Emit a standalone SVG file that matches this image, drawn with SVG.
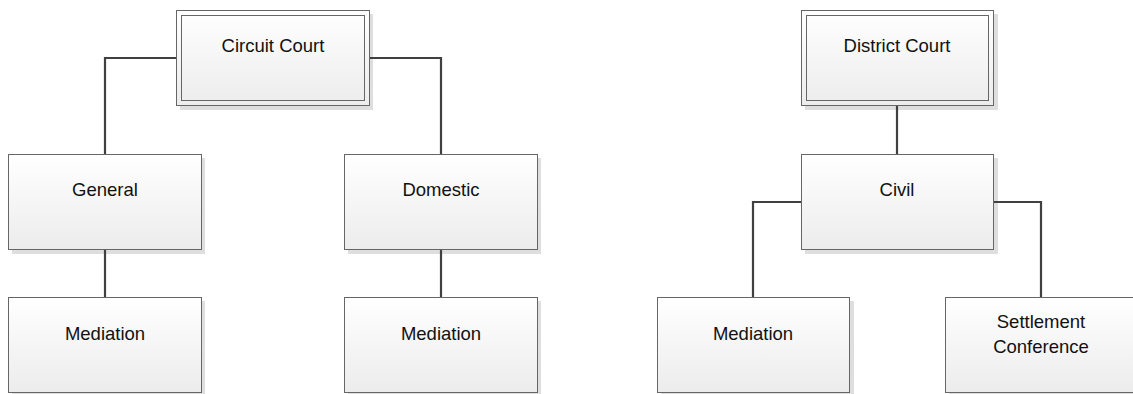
<svg xmlns="http://www.w3.org/2000/svg" width="1133" height="394" viewBox="0 0 1133 394">
<defs>
<linearGradient id="g" x1="0" y1="0" x2="0" y2="1">
<stop offset="0" stop-color="#ffffff"/>
<stop offset="1" stop-color="#ececec"/>
</linearGradient>
<style>
.sh{fill:#dedede;}
.box{fill:url(#g);stroke:#666666;stroke-width:1;}
.inner{fill:none;stroke:#666666;stroke-width:1;}
.t{font-family:"Liberation Sans",Arial,sans-serif;font-size:18.5px;fill:#111111;text-anchor:middle;}
.c{fill:none;stroke:#404040;stroke-width:2.2;}
</style>
</defs>
<rect width="1133" height="394" fill="#ffffff"/>
<g id="circuit-court">
<rect class="sh" x="180" y="14" width="193" height="96"/>
<rect class="box" x="176.5" y="10.5" width="193" height="95"/>
<rect class="inner" x="181.5" y="15.5" width="183" height="85"/>
<text class="t" x="273" y="52">Circuit Court</text>
</g>
<g id="general">
<rect class="sh" x="12" y="158" width="193" height="96"/>
<rect class="box" x="8.5" y="154.5" width="193" height="95"/>
<text class="t" x="105" y="196">General</text>
</g>
<g id="domestic">
<rect class="sh" x="348" y="158" width="193" height="96"/>
<rect class="box" x="344.5" y="154.5" width="193" height="95"/>
<text class="t" x="441" y="196">Domestic</text>
</g>
<g id="mediation-1">
<rect class="sh" x="12" y="301" width="193" height="96"/>
<rect class="box" x="8.5" y="297.5" width="193" height="95"/>
<text class="t" x="105" y="340">Mediation</text>
</g>
<g id="mediation-2">
<rect class="sh" x="348" y="301" width="193" height="96"/>
<rect class="box" x="344.5" y="297.5" width="193" height="95"/>
<text class="t" x="441" y="340">Mediation</text>
</g>
<g id="district-court">
<rect class="sh" x="805" y="14" width="193" height="96"/>
<rect class="box" x="801.5" y="10.5" width="192" height="95"/>
<rect class="inner" x="806.5" y="15.5" width="182" height="85"/>
<text class="t" x="897" y="52">District Court</text>
</g>
<g id="civil">
<rect class="sh" x="805" y="158" width="193" height="96"/>
<rect class="box" x="801.5" y="154.5" width="192" height="95"/>
<text class="t" x="897" y="196">Civil</text>
</g>
<g id="mediation-3">
<rect class="sh" x="661" y="301" width="193" height="96"/>
<rect class="box" x="657.5" y="297.5" width="192" height="95"/>
<text class="t" x="753" y="340">Mediation</text>
</g>
<g id="settlement-conference">
<rect class="sh" x="949" y="301" width="193" height="96"/>
<rect class="box" x="945.5" y="297.5" width="193" height="95"/>
<text class="t" x="1041" y="328">Settlement</text>
<text class="t" x="1041" y="353">Conference</text>
</g>
<g id="connectors">
<path class="c" d="M176 58 H105 V154"/>
<path class="c" d="M370 58 H441 V154"/>
<path class="c" d="M105 250 V297"/>
<path class="c" d="M441 250 V297"/>
<path class="c" d="M897 106 V154"/>
<path class="c" d="M801 202 H753 V297"/>
<path class="c" d="M994 202 H1041 V297"/>
</g>
</svg>
